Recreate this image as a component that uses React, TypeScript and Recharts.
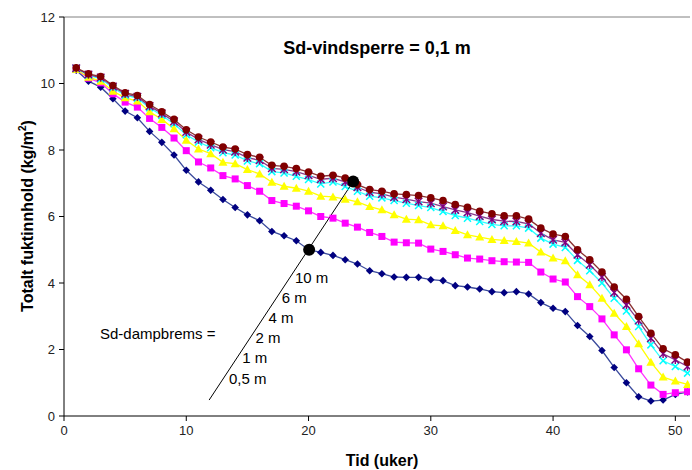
import React from "react";
import {
  LineChart,
  Line,
  XAxis,
  YAxis,
  ReferenceLine,
  ReferenceDot,
} from "recharts";

const weeks = [
  1, 2, 3, 4, 5, 6, 7, 8, 9, 10, 11, 12, 13, 14, 15, 16, 17, 18, 19, 20, 21,
  22, 23, 24, 25, 26, 27, 28, 29, 30, 31, 32, 33, 34, 35, 36, 37, 38, 39, 40,
  41, 42, 43, 44, 45, 46, 47, 48, 49, 50, 51,
];

// Sd-dampbrems = 0,5 m
const sd05 = [
  10.4, 10.07, 9.89, 9.54, 9.17, 8.97, 8.56, 8.23, 7.85, 7.39, 7.04, 6.79, 6.51,
  6.27, 6.05, 5.87, 5.55, 5.42, 5.27, 5.0, 4.92, 4.83, 4.7, 4.57, 4.37, 4.28,
  4.18, 4.17, 4.17, 4.1, 4.07, 3.92, 3.88, 3.82, 3.74, 3.71, 3.74, 3.67, 3.41,
  3.24, 3.14, 2.72, 2.39, 1.97, 1.46, 1.0, 0.58, 0.45, 0.48, 0.65, 0.72,
];
// 1 m
const sd1 = [
  10.42, 10.16, 10.02, 9.69, 9.44, 9.29, 8.95, 8.68, 8.36, 7.98, 7.64, 7.46,
  7.23, 7.13, 6.93, 6.76, 6.48, 6.39, 6.31, 6.17, 6.0, 5.95, 5.8, 5.68, 5.52,
  5.4, 5.23, 5.21, 5.2, 5.02, 4.95, 4.85, 4.75, 4.72, 4.67, 4.64, 4.63, 4.62,
  4.33, 4.12, 4.03, 3.59, 3.29, 2.92, 2.44, 1.99, 1.42, 0.93, 0.65, 0.7, 0.73,
];
// 2 m
const sd2 = [
  10.42, 10.19, 10.07, 9.77, 9.57, 9.47, 9.15, 8.92, 8.64, 8.29, 8.03, 7.89,
  7.63, 7.59, 7.41, 7.28, 7.03, 6.91, 6.85, 6.76, 6.61, 6.59, 6.52, 6.44, 6.3,
  6.2, 6.05, 5.92, 5.9, 5.75, 5.72, 5.58, 5.45, 5.38, 5.31, 5.28, 5.25, 5.2,
  4.93, 4.75, 4.67, 4.25, 3.95, 3.54, 3.09, 2.69, 2.17, 1.62, 1.17, 1.05, 0.95,
];
// 4 m
const sd4 = [
  10.45, 10.25, 10.14, 9.87, 9.65, 9.56, 9.27, 9.04, 8.79, 8.46, 8.24, 8.07,
  7.92, 7.85, 7.67, 7.59, 7.35, 7.31, 7.21, 7.11, 6.98, 7.04, 6.9, 6.76, 6.61,
  6.56, 6.48, 6.4, 6.33, 6.27, 6.15, 6.03, 5.95, 5.85, 5.76, 5.72, 5.72, 5.65,
  5.35, 5.17, 5.07, 4.68, 4.37, 4.0, 3.54, 3.16, 2.69, 2.14, 1.66, 1.49, 1.29,
];
// 6 m
const sd6 = [
  10.46, 10.27, 10.18, 9.91, 9.69, 9.6, 9.32, 9.1, 8.86, 8.54, 8.32, 8.16,
  8.01, 7.95, 7.77, 7.69, 7.45, 7.42, 7.35, 7.24, 7.12, 7.15, 7.04, 6.88, 6.73,
  6.68, 6.58, 6.52, 6.45, 6.4, 6.3, 6.2, 6.12, 6.01, 5.91, 5.86, 5.85, 5.78,
  5.5, 5.3, 5.22, 4.85, 4.55, 4.18, 3.71, 3.34, 2.87, 2.34, 1.87, 1.69, 1.49,
];
// 10 m
const sd10 = [
  10.47, 10.29, 10.21, 9.94, 9.72, 9.64, 9.37, 9.15, 8.92, 8.61, 8.39, 8.24,
  8.09, 8.03, 7.86, 7.78, 7.54, 7.51, 7.44, 7.34, 7.21, 7.24, 7.16, 6.96, 6.81,
  6.76, 6.68, 6.66, 6.63, 6.56, 6.48, 6.36, 6.28, 6.16, 6.08, 6.02, 6.02, 5.92,
  5.65, 5.47, 5.4, 5.0, 4.7, 4.33, 3.88, 3.51, 2.99, 2.49, 2.02, 1.84, 1.62,
];

const xTicks = [0, 10, 20, 30, 40, 50];
const yTicks = [0, 2, 4, 6, 8, 10, 12];
const sdLabels = ["10 m", "6 m", "4 m", "2 m", "1 m", "0,5 m"];

// pointer line for the Sd legend (data coordinates)
const pointerLine = [
  { x: 11.87, y: 0.48 },
  { x: 23.65, y: 7.05 },
];
const pointerDots = [
  { x: 20.05, y: 5.0 },
  { x: 23.65, y: 7.05 },
];

const data = weeks.map((w, i) => ({
  week: w,
  sd05: sd05[i],
  sd1: sd1[i],
  sd2: sd2[i],
  sd4: sd4[i],
  sd6: sd6[i],
  sd10: sd10[i],
}));

const FONT = '"Liberation Sans", Arial, sans-serif';

const Diamond = (props: any) => {
  const { cx, cy, key } = props;
  const s = 3.8;
  return (
    <path
      key={key}
      d={`M${cx},${cy - s}L${cx + s},${cy}L${cx},${cy + s}L${cx - s},${cy}Z`}
      fill="#000080"
    />
  );
};

const Square = (props: any) => {
  const { cx, cy, key } = props;
  return <rect key={key} x={cx - 3.5} y={cy - 3.5} width={7} height={7} fill="#FF00FF" />;
};

const Triangle = (props: any) => {
  const { cx, cy, key } = props;
  return (
    <path
      key={key}
      d={`M${cx},${cy - 4.5}L${cx + 4.5},${cy + 3.5}L${cx - 4.5},${cy + 3.5}Z`}
      fill="#FFFF00"
    />
  );
};

const Cross = (props: any) => {
  const { cx, cy, key } = props;
  const s = 3.5;
  return (
    <path
      key={key}
      d={`M${cx - s},${cy - s}L${cx + s},${cy + s}M${cx - s},${cy + s}L${cx + s},${cy - s}`}
      stroke="#00FFFF"
      strokeWidth={1.5}
    />
  );
};

const Star = (props: any) => {
  const { cx, cy, key } = props;
  const s = 3.8;
  return (
    <path
      key={key}
      d={`M${cx - s},${cy - s}L${cx + s},${cy + s}M${cx - s},${cy + s}L${cx + s},${cy - s}M${cx},${cy - s - 0.5}L${cx},${cy + s + 0.5}`}
      stroke="#800080"
      strokeWidth={1.4}
    />
  );
};

const Circle = (props: any) => {
  const { cx, cy, key } = props;
  return <circle key={key} cx={cx} cy={cy} r={3.8} fill="#800000" />;
};

export default function App() {
  return (
    <div
      style={{
        position: "absolute",
        left: 0,
        top: 0,
        width: 692,
        height: 470,
        background: "#fff",
        fontFamily: FONT,
      }}
    >
      <LineChart
        width={692}
        height={470}
        data={data}
        margin={{ top: 17, right: 2, left: 0, bottom: 0 }}
      >
        <XAxis
          type="number"
          dataKey="week"
          domain={[0, 51.2]}
          ticks={xTicks}
          allowDataOverflow
          height={54}
          tickSize={5}
          tickMargin={5}
          axisLine={{ stroke: "#000" }}
          tickLine={{ stroke: "#000" }}
          tick={{ fontSize: 13, fill: "#222", fontFamily: FONT }}
        />
        <YAxis
          type="number"
          domain={[0, 12]}
          ticks={yTicks}
          width={64}
          tickSize={5}
          tickMargin={4}
          axisLine={{ stroke: "#000" }}
          tickLine={{ stroke: "#000" }}
          tick={{ fontSize: 13, fill: "#222", fontFamily: FONT }}
        />
        <ReferenceLine y={12} stroke="#808080" />

        <Line
          dataKey="sd05"
          stroke="#3a4a9c"
          strokeWidth={1.3}
          dot={Diamond}
          activeDot={false}
          isAnimationActive={false}
        />
        <Line
          dataKey="sd1"
          stroke="#FF33FF"
          strokeWidth={1.3}
          dot={Square}
          activeDot={false}
          isAnimationActive={false}
        />
        <Line
          dataKey="sd2"
          stroke="#FFFF00"
          strokeWidth={1.3}
          dot={Triangle}
          activeDot={false}
          isAnimationActive={false}
        />
        <Line
          dataKey="sd4"
          stroke="#33FFFF"
          strokeWidth={1.3}
          dot={Cross}
          activeDot={false}
          isAnimationActive={false}
        />
        <Line
          dataKey="sd6"
          stroke="#8a3a8a"
          strokeWidth={1.3}
          dot={Star}
          activeDot={false}
          isAnimationActive={false}
        />
        <Line
          dataKey="sd10"
          stroke="#8a3030"
          strokeWidth={1.3}
          dot={Circle}
          activeDot={false}
          isAnimationActive={false}
        />

        <ReferenceLine segment={pointerLine} stroke="#000" strokeWidth={1} />
        {pointerDots.map((d, i) => (
          <ReferenceDot key={i} x={d.x} y={d.y} r={6} fill="#000" stroke="none" />
        ))}
      </LineChart>

      {/* Tittel */}
      <div
        style={{
          position: "absolute",
          left: 377,
          top: 48,
          transform: "translate(-50%, -50%)",
          fontSize: 18,
          fontWeight: "bold",
          whiteSpace: "nowrap",
          color: "#000",
        }}
      >
        Sd-vindsperre = 0,1 m
      </div>

      {/* Aksetitler */}
      <div
        style={{
          position: "absolute",
          left: 27,
          top: 216,
          transform: "translate(-50%, -50%) rotate(-90deg)",
          fontSize: 16,
          fontWeight: "bold",
          whiteSpace: "nowrap",
          color: "#000",
        }}
      >
        Totalt fuktinnhold (kg/m
        <sup style={{ fontSize: 10 }}>2</sup>)
      </div>
      <div
        style={{
          position: "absolute",
          left: 382,
          top: 461,
          transform: "translate(-50%, -50%)",
          fontSize: 16,
          fontWeight: "bold",
          whiteSpace: "nowrap",
          color: "#000",
        }}
      >
        Tid (uker)
      </div>

      {/* Sd-dampbrems forklaring */}
      <div
        style={{
          position: "absolute",
          left: 100,
          top: 333,
          transform: "translateY(-50%)",
          fontSize: 15,
          whiteSpace: "nowrap",
        }}
      >
        Sd-dampbrems =
      </div>
      {sdLabels.map((t, i) => (
        <div
          key={t}
          style={{
            position: "absolute",
            left: 295 - 13.2 * i,
            top: 277 + 20.1 * i,
            transform: "translateY(-50%)",
            fontSize: 15,
            whiteSpace: "nowrap",
          }}
        >
          {t}
        </div>
      ))}
    </div>
  );
}
